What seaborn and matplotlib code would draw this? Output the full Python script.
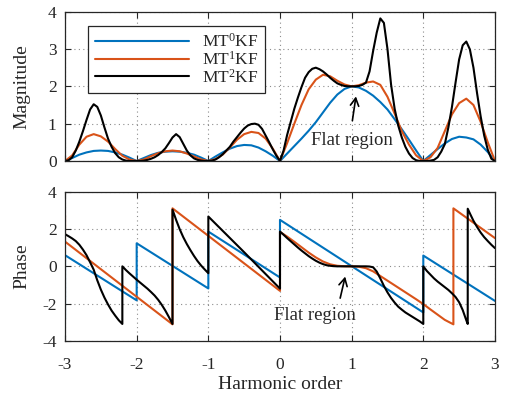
import numpy as np
import pandas as pd
import matplotlib
matplotlib.use("Agg")
import matplotlib.pyplot as plt
import seaborn as sns

# ---------------- data ----------------
series_names = ["MT$^0$KF", "MT$^1$KF", "MT$^2$KF"]
series_colors = ["#0072BD", "#D95319", "#000000"]

harm_coarse = np.round(np.arange(-3, 3.0001, 0.1), 2)   # 61 samples
harm_fine = np.round(np.arange(-3, 3.0001, 0.05), 2)    # 121 samples

mag_mt0 = [0, 0.08, 0.17, 0.23, 0.27, 0.28, 0.27, 0.23, 0.17, 0.09, 0,
           0.08, 0.16, 0.22, 0.25, 0.26, 0.25, 0.22, 0.17, 0.09, 0,
           0.12, 0.23, 0.33, 0.40, 0.43, 0.42, 0.36, 0.26, 0.14, 0,
           0.20, 0.40, 0.60, 0.81, 1.04, 1.30, 1.56, 1.78, 1.93, 2.00,
           1.97, 1.88, 1.75, 1.58, 1.38, 1.12, 0.85, 0.57, 0.28, 0,
           0.16, 0.32, 0.47, 0.59, 0.65, 0.63, 0.58, 0.44, 0.24, 0]

mag_mt1 = [0, 0.15, 0.44, 0.65, 0.72, 0.66, 0.52, 0.32, 0.14, 0.04, 0,
           0.04, 0.13, 0.21, 0.26, 0.28, 0.26, 0.20, 0.12, 0.04, 0,
           0.05, 0.17, 0.36, 0.57, 0.72, 0.78, 0.75, 0.60, 0.33, 0,
           0.48, 1.00, 1.50, 1.92, 2.18, 2.31, 2.27, 2.15, 2.05, 2.00,
           2.03, 2.10, 2.13, 2.04, 1.72, 1.27, 0.80, 0.44, 0.15, 0,
           0.10, 0.35, 0.80, 1.25, 1.55, 1.67, 1.50, 1.05, 0.50, 0]

mag_mt2 = [0, 0.02, 0.10, 0.28, 0.52, 0.80, 1.10, 1.38, 1.52, 1.45, 1.22,
           0.90, 0.60, 0.38, 0.21, 0.10, 0.04, 0.01, 0, 0, 0,
           0, 0.01, 0.03, 0.06, 0.10, 0.16, 0.24, 0.34, 0.48, 0.63,
           0.72, 0.64, 0.46, 0.28, 0.15, 0.07, 0.03, 0.01, 0, 0,
           0.01, 0.04, 0.10, 0.18, 0.28, 0.38, 0.52, 0.64, 0.76, 0.87,
           0.95, 0.99, 1.00, 0.97, 0.86, 0.68, 0.50, 0.31, 0.14, 0,
           0.28, 0.70, 1.05, 1.40, 1.70, 1.98, 2.23, 2.38, 2.47, 2.50,
           2.46, 2.40, 2.32, 2.23, 2.15, 2.08, 2.04, 2.01, 2.00, 2.00,
           2.00, 2.01, 2.04, 2.10, 2.40, 2.95, 3.44, 3.82, 3.70, 3.00,
           2.05, 1.40, 0.95, 0.63, 0.38, 0.20, 0.08, 0.02, 0, 0,
           0, 0.01, 0.03, 0.10, 0.25, 0.45, 0.90, 1.45, 2.10, 2.72,
           3.10, 3.20, 2.99, 2.50, 1.82, 1.20, 0.68, 0.30, 0.06, 0]

ph_mt0_x = [-3, -3, -2, -2, -1, -1, 0, 0, 2, 2, 3]
ph_mt0_y = [-2.85, 0.60, -1.83, 1.24, -1.19, 1.87, -0.60, 2.50, -2.48, 0.58, -1.86]

ph_mt1_x = [-3, -3, -1.5, -1.5, 0, 0,
            0.1, 0.2, 0.3, 0.4, 0.5, 0.6, 0.7, 0.8, 0.9, 1.0,
            1.1, 1.2, 1.3, 1.4, 1.5, 1.6, 1.7, 1.8, 1.9, 2.0,
            2.1, 2.2, 2.3, 2.42, 2.42, 3]
ph_mt1_y = [2.75, 1.33, -3.12, 3.12, -1.32, 1.85,
            1.60, 1.32, 1.03, 0.74, 0.48, 0.26, 0.11, 0.03, 0.005, 0,
            -0.02, -0.10, -0.27, -0.52, -0.77, -1.02, -1.27, -1.52, -1.77, -2.03,
            -2.32, -2.60, -2.88, -3.12, 3.12, 1.52]

ph_mt2_x = [-3, -2.95, -2.9, -2.85, -2.8, -2.75, -2.7, -2.65, -2.6, -2.55,
            -2.5, -2.45, -2.4, -2.35, -2.3, -2.25, -2.2,
            -2.2, -2.15, -2.1, -2.05, -2.0, -1.95, -1.9, -1.85, -1.8, -1.75,
            -1.7, -1.65, -1.6, -1.55, -1.5,
            -1.5, -1.45, -1.4, -1.35, -1.3, -1.25, -1.2, -1.15, -1.1, -1.05, -1.0,
            -1.0, -0.75, -0.5, -0.25, 0,
            0, 0.05, 0.1, 0.15, 0.2, 0.25, 0.3, 0.35, 0.4, 0.45, 0.5, 0.55,
            0.6, 0.65, 0.7, 0.75, 0.8, 1.2, 1.25, 1.3, 1.35, 1.4, 1.45, 1.5,
            1.55, 1.6, 1.65, 1.7, 1.75, 1.8, 1.85, 1.9, 1.95, 2.0,
            2.0, 2.05, 2.1, 2.15, 2.2, 2.25, 2.3, 2.35, 2.4, 2.45, 2.5, 2.55,
            2.6, 2.62,
            2.62, 2.65, 2.7, 2.75, 2.8, 2.85, 2.9, 2.95, 3.0]
ph_mt2_y = [1.73, 1.62, 1.50, 1.36, 1.16, 0.90, 0.60, 0.22, -0.18, -0.75,
            -1.25, -1.68, -2.05, -2.38, -2.65, -2.90, -3.10,
            0, -0.20, -0.38, -0.55, -0.72, -0.88, -1.04, -1.20, -1.38, -1.57,
            -1.80, -2.07, -2.38, -2.73, -3.10,
            3.05, 2.50, 2.00, 1.57, 1.20, 0.87, 0.56, 0.28, 0.04, -0.17, -0.37,
            2.68, 1.72, 0.76, -0.22, -1.20,
            1.87, 1.70, 1.52, 1.35, 1.18, 1.01, 0.85, 0.70, 0.55, 0.42, 0.30, 0.20,
            0.12, 0.06, 0.03, 0.01, 0, 0, -0.01, -0.05, -0.28, -0.65, -1.05, -1.40,
            -1.70, -1.95, -2.17, -2.33, -2.48, -2.60, -2.72, -2.84, -2.96, -3.10,
            0, -0.25, -0.45, -0.65, -0.82, -0.97, -1.12, -1.27, -1.45, -1.65, -1.93, -2.35,
            -2.90, -3.10,
            3.10, 2.85, 2.45, 2.12, 1.82, 1.57, 1.36, 1.16, 0.98]

x_ticks = [-3, -2, -1, 0, 1, 2, 3]
mag_ticks = [0, 1, 2, 3, 4]
ph_ticks = [-4, -2, 0, 2, 4]

# ---------------- tables ----------------
mag_df = pd.concat([
    pd.DataFrame({"h": harm_coarse, "v": mag_mt0, "s": series_names[0]}),
    pd.DataFrame({"h": harm_coarse, "v": mag_mt1, "s": series_names[1]}),
    pd.DataFrame({"h": harm_fine, "v": mag_mt2, "s": series_names[2]}),
], ignore_index=True)
ph_df = pd.concat([
    pd.DataFrame({"h": ph_mt0_x, "v": ph_mt0_y, "s": series_names[0]}),
    pd.DataFrame({"h": ph_mt1_x, "v": ph_mt1_y, "s": series_names[1]}),
    pd.DataFrame({"h": ph_mt2_x, "v": ph_mt2_y, "s": series_names[2]}),
], ignore_index=True)

# ---------------- style ----------------
sns.set_style("ticks")
plt.rcParams.update({
    "font.family": ["Liberation Serif", "DejaVu Serif"],
    "mathtext.fontset": "custom",
    "mathtext.rm": "Liberation Serif",
    "mathtext.it": "Liberation Serif",
    "mathtext.default": "regular",
    "axes.unicode_minus": False,
    "axes.linewidth": 0.9,
    "axes.edgecolor": "#262626",
})

fig = plt.figure(figsize=(5.1, 4.03), dpi=100)
ax1 = fig.add_axes([0.1275, 0.6005, 0.843, 0.3705])
ax2 = fig.add_axes([0.1275, 0.1546, 0.843, 0.369])
palette = dict(zip(series_names, series_colors))

sns.lineplot(data=mag_df, x="h", y="v", hue="s", palette=palette, estimator=None,
             sort=False, lw=1.5, ax=ax1, legend=False)
sns.lineplot(data=ph_df, x="h", y="v", hue="s", palette=palette, estimator=None,
             sort=False, lw=1.5, ax=ax2, legend=False)

for ax, yt in ((ax1, mag_ticks), (ax2, ph_ticks)):
    ax.set_xlim(-3, 3)
    ax.set_ylim(yt[0], yt[-1])
    ax.set_xticks(x_ticks)
    ax.set_yticks(yt)
    ax.grid(True, linestyle=(0, (1, 3)), color="#8c8c8c", linewidth=0.8)
    ax.tick_params(direction="in", top=True, right=True, length=4, width=0.8,
                   labelsize=12.5, colors="#262626")
    ax.tick_params(axis="y", pad=6)
    ax.tick_params(axis="x", pad=12)
    ax.set_ylabel("")
    ax.set_xlabel("")
    for sp in ax.spines.values():
        sp.set_visible(True)

ax1.set_xticklabels([])
ax2.set_xticklabels([str(t) for t in x_ticks])
ax1.set_ylabel("Magnitude", fontsize=14)
ax2.set_ylabel("Phase", fontsize=14)
ax2.set_xlabel("Harmonic order", fontsize=14, labelpad=2)
ax1.yaxis.set_label_coords(-0.08, 0.5)
ax2.yaxis.set_label_coords(-0.08, 0.5)

handles = ax1.get_lines()[:3]
leg = ax1.legend(handles, series_names, loc="upper left", bbox_to_anchor=(0.0535, 0.905),
                 borderaxespad=0, frameon=True, fancybox=False, edgecolor="#262626",
                 fontsize=12.5, handlelength=5.4, handletextpad=0.75, labelspacing=0.0,
                 borderpad=0.4)
leg.get_frame().set_linewidth(0.9)
leg.get_frame().set_alpha(1)

ax1.text(1.01, 0.55, "Flat region", ha="center", va="center", fontsize=13.5)
ax1.annotate("", xy=(1.06, 1.73), xytext=(1.01, 1.08),
             arrowprops=dict(arrowstyle="->,head_length=0.55,head_width=0.3", lw=1.2,
                             color="k", shrinkA=0, shrinkB=0))
ax2.text(0.49, -2.65, "Flat region", ha="center", va="center", fontsize=13.5)
ax2.annotate("", xy=(0.91, -0.55), xytext=(0.84, -1.71),
             arrowprops=dict(arrowstyle="->,head_length=0.55,head_width=0.3", lw=1.2,
                             color="k", shrinkA=0, shrinkB=0))

fig.savefig("out.png", dpi=100)
